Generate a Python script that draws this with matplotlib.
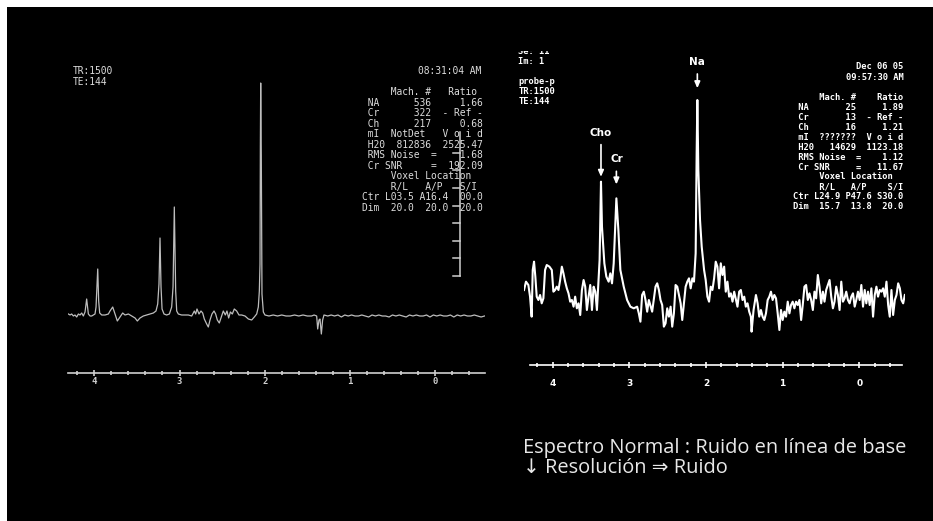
"""Two MRS spectra (TE 144): normal spectrum vs. noisy low-resolution one."""
import matplotlib.pyplot as plt
import numpy as np
from matplotlib.patches import Rectangle
from matplotlib.ticker import MultipleLocator

W, H = 933, 521

# ---- left spectrum: normal, clean baseline (ppm, intensity a.u.) ----
LEFT_PPM = [4.305, 4.285, 4.266, 4.246, 4.227, 4.207, 4.187, 4.168, 4.148, 4.129,
            4.109, 4.090, 4.070, 4.050, 4.031, 4.011, 3.992, 3.980, 3.960, 3.949,
            3.937, 3.913, 3.874, 3.835, 3.816, 3.784, 3.757, 3.730, 3.698, 3.667,
            3.640, 3.600, 3.561, 3.522, 3.495, 3.464, 3.425, 3.385, 3.346, 3.307,
            3.276, 3.256, 3.241, 3.229, 3.217, 3.205, 3.182, 3.151, 3.119, 3.092,
            3.076, 3.061, 3.045, 3.033, 3.014, 2.975, 2.936, 2.896, 2.857, 2.826,
            2.810, 2.795, 2.771, 2.748, 2.728, 2.709, 2.681, 2.662, 2.642, 2.619,
            2.595, 2.576, 2.556, 2.533, 2.509, 2.486, 2.462, 2.443, 2.423, 2.403,
            2.380, 2.357, 2.329, 2.302, 2.270, 2.231, 2.192, 2.153, 2.122, 2.094,
            2.075, 2.063, 2.055, 2.051, 2.047, 2.040, 2.032, 2.016, 1.997, 1.95,
            1.90, 1.85, 1.80, 1.75, 1.70, 1.65, 1.60, 1.55, 1.50, 1.45,
            1.42, 1.39, 1.378, 1.363, 1.351, 1.335, 1.320, 1.304, 1.26, 1.22,
            1.18, 1.14, 1.10, 1.06, 1.02, 0.98, 0.94, 0.90, 0.86, 0.82,
            0.78, 0.74, 0.70, 0.66, 0.62, 0.58, 0.54, 0.50, 0.46, 0.42,
            0.38, 0.34, 0.30, 0.26, 0.22, 0.18, 0.14, 0.10, 0.06, 0.02,
            -0.02, -0.06, -0.10, -0.14, -0.18, -0.22, -0.26, -0.30, -0.34, -0.38,
            -0.42, -0.46, -0.50, -0.54, -0.58]
LEFT_INT = [1, 0, 1, -1, 0, -2, 1, 0, 2, -1,
            3, 16, 1, -1, -1, 0, 1, 8, 46, 14,
            2, 0, 0, 1, 4, 8, 1, -6, -2, 2,
            0, 1, -1, -3, -6, -3, -1, 0, 1, 2,
            4, 11, 31, 77, 28, 6, 1, 0, 1, 8,
            28, 108, 24, 4, 1, 0, 0, 0, -1, 4,
            1, 6, 1, 4, 2, -4, -9, -12, -5, 1,
            4, 1, -5, -8, -2, 4, 0, 4, -3, 3,
            1, 6, 4, 0, 0, -1, -4, -5, -2, 1,
            8, 24, 51, 168, 232, 160, 21, 3, 0, -1,
            0, -1, 0, -1, -1, 0, -1, 0, -1, -1,
            0, -1, -14, -5, -4, -19, -5, 0, -1, 0,
            -1, 0, -2, 0, -1, 0, -1, -1, 0, -1,
            -2, 0, -1, 0, -1, -1, -2, 0, -1, 0,
            -1, -2, 0, -1, 0, -1, -1, 0, -2, 0,
            -1, 0, -1, -1, 0, -2, 0, -1, 0, -1,
            -1, 0, -1, -2, -1]

# ---- right spectrum: noisy, low resolution (ppm, intensity a.u.) ----
RIGHT_PPM = [4.376, 4.350, 4.319, 4.297, 4.276, 4.262, 4.245, 4.228, 4.210, 4.188,
             4.166, 4.145, 4.123, 4.101, 4.079, 4.044, 4.013, 3.992, 3.970, 3.948,
             3.926, 3.904, 3.882, 3.861, 3.839, 3.817, 3.795, 3.773, 3.751, 3.729,
             3.708, 3.686, 3.664, 3.642, 3.620, 3.598, 3.577, 3.555, 3.533, 3.511,
             3.489, 3.467, 3.445, 3.424, 3.402, 3.389, 3.371, 3.358, 3.327, 3.301,
             3.271, 3.249, 3.227, 3.205, 3.170, 3.144, 3.118, 3.074, 3.030, 2.987,
             2.943, 2.899, 2.877, 2.856, 2.834, 2.812, 2.790, 2.768, 2.746, 2.703,
             2.659, 2.637, 2.615, 2.594, 2.572, 2.550, 2.528, 2.506, 2.484, 2.462,
             2.441, 2.419, 2.397, 2.375, 2.353, 2.331, 2.310, 2.288, 2.266, 2.244,
             2.222, 2.200, 2.178, 2.157, 2.135, 2.122, 2.113, 2.100, 2.078, 2.056,
             2.025, 2.004, 1.982, 1.960, 1.938, 1.916, 1.894, 1.873, 1.851, 1.829,
             1.807, 1.785, 1.763, 1.742, 1.720, 1.698, 1.676, 1.654, 1.632, 1.589,
             1.567, 1.545, 1.523, 1.501, 1.480, 1.458, 1.436, 1.414, 1.405, 1.379,
             1.348, 1.326, 1.305, 1.283, 1.261, 1.239, 1.217, 1.195, 1.173, 1.152,
             1.130, 1.108, 1.086, 1.064, 1.042, 1.021, 0.999, 0.977, 0.955, 0.933,
             0.911, 0.890, 0.868, 0.846, 0.824, 0.802, 0.780, 0.758, 0.737, 0.715,
             0.693, 0.671, 0.649, 0.627, 0.605, 0.584, 0.562, 0.540, 0.518, 0.496,
             0.474, 0.453, 0.431, 0.409, 0.387, 0.365, 0.343, 0.322, 0.300, 0.278,
             0.256, 0.234, 0.212, 0.191, 0.169, 0.147, 0.125, 0.103, 0.081, 0.059,
             0.038, 0.016, -0.006, -0.028, -0.050, -0.072, -0.093, -0.115, -0.137, -0.159,
             -0.181, -0.203, -0.225, -0.246, -0.268, -0.290, -0.312, -0.334, -0.356, -0.378,
             -0.399, -0.421, -0.443, -0.465, -0.487, -0.509, -0.531, -0.552, -0.574, -0.596]
RIGHT_INT = [20, 45, 35, 0, -60, 80, 105, 60, 0, -10,
             5, -20, -5, 80, 95, 90, 80, 15, 20, 30,
             20, 50, 90, 70, 45, 25, 10, -15, -10, -30,
             0, -35, -20, -55, 20, 50, 30, -40, 0, 35,
             -40, 30, 15, -40, 55, 110, 345, 210, 100, 60,
             45, 70, 40, 100, 295, 200, 80, 30, -10, -30,
             -35, -30, -50, -75, 5, 15, -10, -45, -10, -45,
             30, 40, 20, -10, -25, -90, -80, -35, -60, -30,
             -90, -50, 35, 30, 5, -20, -70, -20, 30, 45,
             55, 25, 55, 45, 130, 430, 590, 380, 230, 150,
             80, 50, 0, -15, 30, 20, 55, 105, 90, 25,
             100, 65, 90, 15, 45, 0, 10, -15, 15, -30,
             15, 20, -10, 0, -30, -20, -45, -60, -105, -40,
             5, -20, -60, -40, -60, -70, -50, -10, 0, 15,
             -10, 5, -5, -50, -100, -40, -70, -45, -60, -15,
             -50, -25, -15, -35, -15, -25, -10, -70, -25, 30,
             35, -10, 10, -10, -40, 15, -5, 65, 30, -20,
             15, -15, 20, 35, 50, 0, -35, -15, 30, 5,
             -40, 45, -15, -5, 15, -10, -20, 0, 10, -30,
             -10, 15, -10, 35, -30, 20, -20, 15, -25, 25,
             -60, 5, 30, 0, 20, 15, 25, 0, 45, -25,
             -60, 20, -55, -10, 5, 40, 25, -10, -20, 5]

PPM_TICKS = [4, 3, 2, 1, 0]
PEAK_LABELS = ["Cho", "Cr", "Na"]
PEAK_PPM = [3.371, 3.170, 2.113]

LEFT_INFO = ["TR:1500", "TE:144"]
LEFT_TIME = "08:31:04 AM"
LEFT_TABLE = [
    "     Mach. #   Ratio",
    " NA      536     1.66",
    " Cr      322  - Ref -",
    " Ch      217     0.68",
    " mI  NotDet   V o i d",
    " H20  812836  2525.47",
    " RMS Noise  =    1.68",
    " Cr SNR     =  192.09",
    "     Voxel Location",
    "     R/L   A/P   S/I",
    "Ctr L03.5 A16.4  00.0",
    "Dim  20.0  20.0  20.0",
]
RIGHT_INFO = ["Se: 11", "Im: 1", "", "probe-p", "TR:1500", "TE:144"]
RIGHT_DATE = ["Dec 06 05", "09:57:30 AM"]
RIGHT_TABLE = [
    "     Mach. #    Ratio",
    " NA       25     1.89",
    " Cr       13  - Ref -",
    " Ch       16     1.21",
    " mI  ???????  V o i d",
    " H20   14629  1123.18",
    " RMS Noise  =    1.12",
    " Cr SNR     =   11.67",
    "     Voxel Location",
    "     R/L   A/P    S/I",
    "Ctr L24.9 P47.6 S30.0",
    "Dim  15.7  13.8  20.0",
]
CAPTION = ["Espectro Normal : Ruido en línea de base",
           "\u2193 Resolución \u21d2 Ruido"]

MONO = "DejaVu Sans Mono"


def add_px_axes(fig, x0, y0, x1, y1):
    return fig.add_axes([x0 / W, 1 - y1 / H, (x1 - x0) / W, (y1 - y0) / H])


def px_text(fig, x, y, s, **kw):
    kw.setdefault("va", "center")
    return fig.text(x / W, 1 - y / H, s, **kw)


def style_scale(ax, spine_y, bounds, color, pad, weight, family):
    ax.set_facecolor("none")
    for side in ("top", "left", "right"):
        ax.spines[side].set_visible(False)
    sp = ax.spines["bottom"]
    sp.set_position(("data", spine_y))
    sp.set_bounds(*bounds)
    sp.set_color(color)
    sp.set_linewidth(1.2)
    ax.set_yticks([])
    ax.set_xticks(PPM_TICKS)
    ax.xaxis.set_minor_locator(MultipleLocator(0.2))
    ax.tick_params(axis="x", which="major", direction="inout", length=5,
                   width=1.2, color=color, labelcolor=color, labelsize=6.5, pad=pad)
    ax.tick_params(axis="x", which="minor", direction="inout", length=2.2,
                   width=1.2, color=color)
    for lbl in ax.get_xticklabels():
        lbl.set_fontweight(weight)
        lbl.set_family(family)


def main():
    fig = plt.figure(figsize=(W / 100, H / 100), dpi=100, facecolor="white")
    fig.add_artist(Rectangle((7 / W, 0), 1 - 7 / W, 1 - 7 / H, transform=fig.transFigure,
                             facecolor="black", edgecolor="none", zorder=0))

    # left spectrum
    axl = add_px_axes(fig, 68, 70, 485, 400)
    axl.plot(LEFT_PPM, LEFT_INT, color="#bdbdbd", lw=0.9)
    axl.set_xlim(4.309, -0.586)
    axl.set_ylim(-85, 245)
    style_scale(axl, -57.7, (4.309, -0.586), "#cfcfcf", 0.5, "bold", MONO)

    # vertical calibration bar of the left screen
    bar_x = 460
    fig.add_artist(plt.Line2D([bar_x / W, bar_x / W], [1 - 132 / H, 1 - 276 / H],
                              transform=fig.transFigure, color="#cfcfcf", lw=1.1))
    for ty in (152.6, 170.3, 188, 205.6, 223, 240.7, 258.3, 276):
        fig.add_artist(plt.Line2D([453 / W, bar_x / W], [1 - ty / H, 1 - ty / H],
                                  transform=fig.transFigure, color="#cfcfcf", lw=1.1))

    lt = dict(family=MONO, fontsize=6.9, color="#dcdcdc")
    for i, s in enumerate(LEFT_INFO):
        px_text(fig, 72.7, 70.7 + 11 * i, s, **lt)
    px_text(fig, 481.7, 70.7, LEFT_TIME, ha="right", **lt)
    for i, s in enumerate(LEFT_TABLE):
        px_text(fig, 361.7, 92 + 10.55 * i, s, **lt)

    # right spectrum
    axr = add_px_axes(fig, 524, 40, 905, 400)
    axr.plot(RIGHT_PPM, RIGHT_INT, color="white", lw=1.5)
    axr.set_xlim(4.376, -0.598)
    axr.set_ylim(-310, 770)
    style_scale(axr, -205, (4.297, -0.561), "white", 7.5, "bold", "DejaVu Sans")

    ppm = np.array(RIGHT_PPM)
    inten = np.array(RIGHT_INT)
    label_off = [49, 39, 38]
    tip_gap = [3.5, 10, 8.5]
    for name, p, off, gap in zip(PEAK_LABELS, PEAK_PPM, label_off, tip_gap):
        top = inten[np.argmin(np.abs(ppm - p))]
        axr.annotate(name, xy=(p, top), xytext=(0, off), textcoords="offset pixels",
                     ha="center", va="center", color="white", fontsize=7.5,
                     fontweight="bold",
                     arrowprops=dict(arrowstyle="-|>,head_length=0.5,head_width=0.22",
                                     color="white", lw=1.2, shrinkA=3, shrinkB=gap))

    rt = dict(family=MONO, fontsize=6.3, color="white", fontweight="bold")
    for i, s in enumerate(RIGHT_INFO):
        px_text(fig, 518.3, 51.7 + 10 * i, s, **rt)
    for i, s in enumerate(RIGHT_DATE):
        px_text(fig, 903.3, 66.7 + 10.6 * i, s, ha="right", **rt)
    for i, s in enumerate(RIGHT_TABLE):
        px_text(fig, 793.3, 97.7 + 9.9 * i, s, **rt)
    # top edge of the photographed screen cuts the first line
    fig.add_artist(Rectangle((510 / W, 1 - 50.5 / H), 60 / W, 12 / H,
                             transform=fig.transFigure, facecolor="black",
                             edgecolor="none", zorder=5))

    # two-line caption as one text block
    px_text(fig, 523, 458, "\n".join(CAPTION), fontsize=14.4, linespacing=0.95,
            family=["Open Sans", "DejaVu Sans"], color="#e8e8e8")

    fig.savefig("out.png", dpi=100, facecolor="white")


if __name__ == "__main__":
    main()
